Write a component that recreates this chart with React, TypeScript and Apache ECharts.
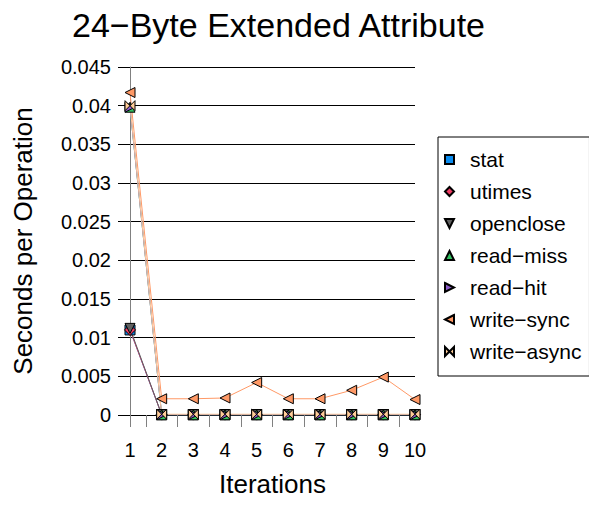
import React, { useEffect, useRef } from 'react';
import * as echarts from 'echarts';

const titleText = '24−Byte Extended Attribute';
const xName = 'Iterations';
const yName = 'Seconds per Operation';
const iterations = ['1', '2', '3', '4', '5', '6', '7', '8', '9', '10'];
const yMin = 0;
const yMax = 0.045;
const yStep = 0.005;

const seriesNames = ['stat', 'utimes', 'openclose', 'read−miss', 'read−hit', 'write−sync', 'write−async'];
const stat = [0.011, 0.00004, 0.00004, 0.00004, 0.00004, 0.00004, 0.00004, 0.00004, 0.00004, 0.00004];
const utimes = [0.011, 0.00005, 0.00005, 0.00005, 0.00005, 0.00005, 0.00005, 0.00005, 0.00005, 0.00005];
const openclose = [0.0112, 0.00006, 0.00006, 0.00006, 0.00006, 0.00006, 0.00006, 0.00006, 0.00006, 0.00006];
const readMiss = [0.0398, 0.00003, 0.00003, 0.00003, 0.00003, 0.00003, 0.00003, 0.00003, 0.00003, 0.00003];
const readHit = [0.0398, 0.00003, 0.00003, 0.00003, 0.00003, 0.00003, 0.00003, 0.00003, 0.00003, 0.00003];
const writeSync = [0.0417, 0.0021, 0.0021, 0.0022, 0.0042, 0.0021, 0.0021, 0.0032, 0.0049, 0.0020];
const writeAsync = [0.0400, 0.0001, 0.0001, 0.0001, 0.0001, 0.0001, 0.0001, 0.0001, 0.0001, 0.0001];

const seriesValues = [stat, utimes, openclose, readMiss, readHit, writeSync, writeAsync];
const seriesColors = ['#0A8CF0', '#F03C64', '#606060', '#33C060', '#8C5CC8', '#FF9966', '#FFCC99'];
const seriesSymbols = [
  'rect',
  'diamond',
  'path://M0,0L10,0L5,10Z',
  'triangle',
  'path://M0,0L10,5L0,10Z',
  'path://M10,0L0,5L10,10Z',
  'path://M0,0L10,10L10,0L0,10Z',
];

const FONT = 'Liberation Sans, Arial, sans-serif';

export default function App() {
  const ref = useRef<HTMLDivElement>(null);
  useEffect(() => {
    if (!ref.current) return;
    const chart = echarts.init(ref.current, undefined, { renderer: 'svg' });
    const tickSlots = iterations.flatMap((v, i) => (i < iterations.length - 1 ? [v, v + '.5'] : [v]));
    const option: any = {
      animation: false,
      backgroundColor: '#fff',
      textStyle: { fontFamily: FONT },
      title: {
        text: titleText,
        left: 72,
        top: 8,
        padding: 0,
        textStyle: { fontSize: 34, fontWeight: 'normal', color: '#000', fontFamily: FONT },
      },
      legend: {
        orient: 'vertical',
        left: 438,
        top: 137,
        padding: [12, 8, 14, 6],
        itemGap: 11,
        itemWidth: 9,
        itemHeight: 9,
        borderColor: '#000',
        borderWidth: 1,
        textStyle: { fontSize: 21, color: '#000', fontFamily: FONT, padding: [0, 0, 0, 11] },
        data: seriesNames.map((n, i) => ({ name: n, icon: seriesSymbols[i] })),
      },
      grid: { left: 130, top: 67, width: 285, height: 348 },
      xAxis: [
        {
          type: 'category',
          data: iterations,
          boundaryGap: false,
          name: xName,
          nameLocation: 'middle',
          nameGap: 56,
          nameTextStyle: { fontSize: 26, color: '#000', fontFamily: FONT },
          axisLine: { show: true, lineStyle: { color: '#000', width: 1 } },
          axisTick: { show: false },
          axisLabel: { margin: 25, fontSize: 20, color: '#000', fontFamily: FONT, interval: 0 },
          splitLine: { show: false },
        },
        {
          type: 'category',
          data: tickSlots,
          boundaryGap: false,
          position: 'bottom',
          axisLine: { show: false },
          axisLabel: { show: false },
          splitLine: { show: false },
          axisTick: {
            show: true,
            length: 12,
            interval: (i: number) => i === 0 || i % 2 === 1,
            lineStyle: { color: '#808080', width: 1 },
          },
        },
      ],
      yAxis: {
        type: 'value',
        min: yMin,
        max: yMax,
        interval: yStep,
        name: yName,
        nameLocation: 'middle',
        nameGap: 94,
        nameTextStyle: { fontSize: 26, color: '#000', fontFamily: FONT },
        axisLine: { show: true, lineStyle: { color: '#808080', width: 1 } },
        axisTick: { show: true, length: 12, lineStyle: { color: '#000', width: 1 } },
        axisLabel: { margin: 19, fontSize: 20, color: '#000', fontFamily: FONT },
        splitLine: { show: true, lineStyle: { color: '#000', width: 1 } },
      },
      series: seriesNames.map((n, i) => ({
        name: n,
        type: 'line',
        xAxisIndex: 0,
        data: seriesValues[i],
        symbol: seriesSymbols[i],
        symbolSize: i === 1 ? 11 : 10,
        showAllSymbol: true,
        lineStyle: { color: seriesColors[i], width: 1 },
        itemStyle: { color: seriesColors[i], borderColor: '#000', borderWidth: 1 },
        emphasis: { disabled: true },
      })),
    };
    chart.setOption(option);
    return () => chart.dispose();
  }, []);
  return <div ref={ref} style={{ width: 589, height: 509, position: 'absolute', left: 0, top: 0 }} />;
}
